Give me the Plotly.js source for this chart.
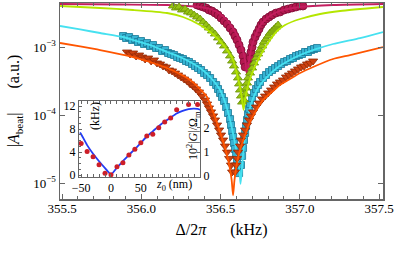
<!DOCTYPE html>
<html>
<head>
<meta charset="utf-8">
<script src="https://cdn.plot.ly/plotly-3.0.1.min.js"></script>
<style>
html,body{margin:0;padding:0;background:#fff;}
#chart{width:402px;height:253px;}
</style>
</head>
<body>
<div id="chart"></div>
<script>
// ---------- main panel: beat amplitude vs detuning (kHz, a.u.) ----------
// crimson circles
const crimsonDelta = [356.352,356.371,356.390,356.409,356.427,356.446,356.465,356.484,356.503,356.522,356.541,356.560,356.579,356.591,356.604,356.617,356.629,356.642,356.648,356.655,
  356.680,356.686,356.692,356.699,356.705,356.718,356.730,356.743,356.755,356.768,356.787,356.806,356.825,356.850,356.875,356.901,356.926,356.951,356.976,357.002,357.020];
const crimsonAmp = [4.146e-3,4.008e-3,3.875e-3,3.746e-3,3.500e-3,3.384e-3,3.162e-3,2.955e-3,2.670e-3,2.412e-3,2.179e-3,1.903e-3,1.662e-3,1.451e-3,1.267e-3,1.070e-3,9.03e-4,7.37e-4,6.02e-4,5.08e-4,
  5.43e-4,6.89e-4,8.44e-4,1.0e-3,1.184e-3,1.403e-3,1.606e-3,1.839e-3,2.106e-3,2.331e-3,2.581e-3,2.762e-3,2.955e-3,3.162e-3,3.271e-3,3.500e-3,3.621e-3,3.746e-3,3.875e-3,4.008e-3,4.008e-3];
const crimsonFitDelta = [355.487,355.866,356.162,356.371,356.434,356.478,356.541,356.604,356.636,356.655,356.667,356.680,356.699,356.724,356.749,356.793,356.844,356.894,357.002,357.210,357.525];
const crimsonFitAmp = [4.29e-3,4.217e-3,4.146e-3,3.875e-3,3.621e-3,3.271e-3,2.495e-3,1.501e-3,9.67e-4,6.44e-4,3.87e-4,6.44e-4,1.070e-3,1.553e-3,2.036e-3,2.670e-3,3.162e-3,3.500e-3,3.875e-3,4.146e-3,4.29e-3];

// yellow-green triangles
const greenDelta = [356.200,356.219,356.238,356.257,356.276,356.295,356.314,356.333,356.352,356.371,356.390,356.409,356.427,356.446,356.465,356.484,356.503,356.522,356.541,356.560,356.573,356.585,356.598,356.610,356.617,356.623,356.629,356.636,
  356.648,356.655,356.661,356.667,356.673,356.686,356.699,356.711,356.724,356.737,356.749,356.762,356.774,356.787,356.800,356.812,356.825,356.838,356.850,356.863];
const greenAmp = [4.008e-3,3.746e-3,3.875e-3,3.500e-3,3.621e-3,3.271e-3,3.162e-3,2.955e-3,2.762e-3,2.581e-3,2.331e-3,2.106e-3,1.903e-3,1.719e-3,1.553e-3,1.356e-3,1.184e-3,1.034e-3,8.73e-4,7.37e-4,6.22e-4,5.25e-4,4.29e-4,3.50e-4,2.86e-4,2.33e-4,1.90e-4,1.55e-4,
  1.66e-4,2.04e-4,2.49e-4,2.95e-4,3.50e-4,4.14e-4,4.91e-4,5.82e-4,6.89e-4,7.89e-4,9.03e-4,1.034e-3,1.184e-3,1.311e-3,1.451e-3,1.606e-3,1.719e-3,1.839e-3,1.968e-3,2.106e-3];
const greenFitDelta = [355.487,355.740,355.948,356.162,356.263,356.371,356.434,356.478,356.528,356.579,356.610,356.629,356.645,356.655,356.673,356.686,356.705,356.737,356.768,356.812,356.856,356.907,357.002,357.128,357.254,357.525];
const greenFitAmp = [4.008e-3,3.746e-3,3.500e-3,3.162e-3,2.762e-3,2.106e-3,1.662e-3,1.356e-3,1.0e-3,6.44e-4,3.50e-4,2.18e-4,1.19e-4,1.72e-4,2.67e-4,3.38e-4,4.44e-4,6.44e-4,8.73e-4,1.267e-3,1.719e-3,2.106e-3,2.581e-3,3.057e-3,3.384e-3,3.875e-3];

// cyan squares
const cyanDelta = [355.885,355.904,355.923,355.942,355.961,355.979,355.998,356.017,356.036,356.055,356.074,356.093,356.112,356.131,356.150,356.169,356.188,356.207,356.226,356.244,356.263,356.282,356.301,356.320,356.339,356.358,356.377,356.396,356.415,356.434,356.453,356.472,356.484,356.497,356.509,356.522,356.535,356.547,356.560,356.566,356.573,356.579,356.585,356.591,356.598,356.604,356.610,356.617,
  356.629,356.636,356.642,356.648,356.655,356.661,356.667,356.673,356.680,356.686,356.699,356.711,356.724,356.737,356.749,356.768,356.787,356.806,356.825,356.844,356.863,356.882,356.901,356.920,356.938,356.957,356.976,356.995,357.014,357.033,357.052,357.071,357.090,357.109];
const cyanAmp = [1.451e-3,1.356e-3,1.403e-3,1.267e-3,1.311e-3,1.184e-3,1.225e-3,1.107e-3,1.145e-3,1.034e-3,1.070e-3,9.67e-4,9.67e-4,8.73e-4,9.03e-4,8.16e-4,7.89e-4,7.62e-4,7.12e-4,6.89e-4,6.66e-4,6.22e-4,6.02e-4,5.62e-4,5.25e-4,4.91e-4,4.59e-4,4.14e-4,3.87e-4,3.50e-4,3.06e-4,2.76e-4,2.41e-4,2.11e-4,1.84e-4,1.61e-4,1.31e-4,1.07e-4,8.7e-5,7.13e-5,5.8e-5,4.76e-5,3.87e-5,3.16e-5,2.58e-5,2.1e-5,1.72e-5,1.4e-5,
  1.84e-5,2.5e-5,3.27e-5,4.29e-5,5.44e-5,6.9e-5,8.45e-5,1.03e-4,1.23e-4,1.45e-4,1.78e-4,2.11e-4,2.41e-4,2.76e-4,3.06e-4,3.50e-4,3.87e-4,4.29e-4,4.59e-4,4.91e-4,5.25e-4,5.62e-4,6.02e-4,6.22e-4,6.66e-4,6.89e-4,7.37e-4,7.62e-4,7.89e-4,8.44e-4,8.44e-4,9.03e-4,9.35e-4,9.67e-4];
const cyanFitDelta = [355.487,355.614,355.740,355.885,355.948,356.055,356.162,356.244,356.308,356.371,356.434,356.497,356.528,356.560,356.591,356.610,356.620,356.626,356.633,356.648,356.667,356.686,356.711,356.749,356.793,356.856,356.938,357.002,357.096,357.210,357.380,357.525];
const cyanFitAmp = [2.036e-3,1.81e-3,1.606e-3,1.403e-3,1.267e-3,1.070e-3,8.44e-4,7.12e-4,6.02e-4,4.91e-4,3.62e-4,2.33e-4,1.55e-4,8.45e-5,3.87e-5,2.18e-5,1.45e-5,9.7e-6,1.45e-5,3.62e-5,7.38e-5,1.27e-4,1.90e-4,2.76e-4,3.62e-4,4.91e-4,6.44e-4,7.62e-4,9.2e-4,1.107e-3,1.356e-3,1.662e-3];

// orange triangles (down)
const orangeDelta = [355.910,355.929,355.948,355.967,355.986,356.005,356.024,356.043,356.062,356.080,356.099,356.118,356.137,356.156,356.175,356.194,356.213,356.232,356.251,356.270,356.289,356.308,356.326,356.345,356.364,356.383,356.402,356.415,356.427,356.440,356.453,356.465,356.478,356.491,356.503,356.516,356.528,356.541,356.554,356.566,356.573,
  356.591,356.598,356.604,356.610,356.623,356.629,356.642,356.655,356.667,356.680,356.692,356.705,356.724,356.743,356.762,356.781,356.800,356.819,356.838,356.856,356.875,356.894,356.913,356.932,356.951,356.970,356.989,357.008,357.027,357.046,357.065,357.084];
const orangeAmp = [8.44e-4,7.89e-4,8.16e-4,7.37e-4,7.62e-4,7.12e-4,6.66e-4,6.89e-4,6.22e-4,6.44e-4,5.82e-4,5.62e-4,5.25e-4,5.08e-4,4.59e-4,4.44e-4,4.14e-4,3.87e-4,3.62e-4,3.38e-4,3.16e-4,2.86e-4,2.67e-4,2.41e-4,2.18e-4,1.90e-4,1.66e-4,1.45e-4,1.27e-4,1.11e-4,9.7e-5,8.45e-5,7.13e-5,6.02e-5,5.08e-5,4.29e-5,3.5e-5,2.85e-5,2.3e-5,1.84e-5,1.45e-5,
  1.45e-5,1.84e-5,2.3e-5,2.85e-5,3.5e-5,4.29e-5,5.08e-5,6.02e-5,7.13e-5,8.45e-5,9.7e-5,1.11e-4,1.31e-4,1.50e-4,1.72e-4,1.90e-4,2.11e-4,2.33e-4,2.58e-4,2.86e-4,3.06e-4,3.27e-4,3.62e-4,3.87e-4,4.14e-4,4.44e-4,4.75e-4,5.08e-4,5.25e-4,5.62e-4,5.82e-4,6.22e-4];
const orangeFitDelta = [355.487,355.614,355.740,355.948,356.055,356.162,356.244,356.308,356.371,356.415,356.453,356.497,356.528,356.554,356.570,356.579,356.588,356.604,356.623,356.655,356.686,356.730,356.768,356.831,356.875,356.938,357.002,357.084,357.210,357.317,357.525];
const orangeFitAmp = [1.145e-3,1.02e-3,9.03e-4,7.12e-4,6.02e-4,4.91e-4,4.01e-4,3.27e-4,2.41e-4,1.84e-4,1.11e-4,5.6e-5,3.3e-5,1.9e-5,1.11e-5,6.6e-6,1.11e-5,1.98e-5,3.06e-5,5.08e-5,7.9e-5,1.23e-4,1.66e-4,2.25e-4,2.76e-4,3.38e-4,4.14e-4,5.08e-4,6.66e-4,7.62e-4,1.0e-3];

// ---------- inset: frequency (kHz) vs z0 (nm) ----------
const insetZ = [-50,-40,-30,-20,-10,0,10,20,30,40,50,60,70,80,90,100,110,130,145];
const insetKHz = [5.5,4.1,3.2,1.8,0.3,0.05,1.45,2.15,3.5,4.5,5.6,6.8,7.1,8.2,9.2,9.9,11.35,12.25,12.25];
const insetFitZ = [-52,-50,-40,-30,-20,-10,0,10,20,30,40,50,60,70,80,90,100,110,120,130,138,145,150];
const insetFitKHz = [7.4,7.1,5.2,3.7,2.4,1.2,0.1,1.3,2.4,3.5,4.5,5.6,6.7,7.6,8.5,9.3,10.0,10.7,11.15,11.45,11.55,11.5,11.35];

const xTickVals = [355.5,356.0,356.5,357.0,357.5];
const yTickVals = [1e-5,1e-4,1e-3];
const yTickText = ['10<sup>\u22125</sup>','10<sup>\u22124</sup>','10<sup>\u22123</sup>'];
const insetXTicks = [-50,0,50];
const insetXText = ['\u221250','0','50'];
const insetYTicks = [0,4,8,12];
const insetRightTicks = [0,1,2];

const FONT = 'Liberation Serif';
const AX = '#666666';

function markers(x, y, sym, size, fill, edge) {
  return {x:x, y:y, type:'scatter', mode:'markers', hoverinfo:'skip', showlegend:false,
    marker:{symbol:sym, size:size, color:fill, line:{color:edge, width:0.8}}};
}
function fit(x, y, col) {
  return {x:x, y:y, type:'scatter', mode:'lines', hoverinfo:'skip', showlegend:false,
    line:{color:col, width:1.8, shape:'spline', smoothing:0.6}};
}

const traces = [
  markers(cyanDelta, cyanAmp, 'square', 7, 'rgb(55,180,212)', 'rgb(25,120,150)'),
  fit(cyanFitDelta, cyanFitAmp, 'rgb(70,225,240)'),
  markers(crimsonDelta, crimsonAmp, 'circle', 8, 'rgb(180,25,80)', 'rgb(125,10,50)'),
  fit(crimsonFitDelta, crimsonFitAmp, 'rgb(195,30,95)'),
  markers(greenDelta, greenAmp, 'triangle-up', 8, 'rgb(150,195,20)', 'rgb(105,145,5)'),
  fit(greenFitDelta, greenFitAmp, 'rgb(180,230,0)'),
  markers(orangeDelta, orangeAmp, 'triangle-down', 8, 'rgb(205,65,15)', 'rgb(145,40,5)'),
  fit(orangeFitDelta, orangeFitAmp, 'rgb(255,85,0)'),
  {x:insetFitZ, y:insetFitKHz, xaxis:'x2', yaxis:'y2', type:'scatter', mode:'lines', hoverinfo:'skip', showlegend:false,
    line:{color:'rgb(35,60,245)', width:1.8, shape:'spline', smoothing:0.5}},
  {x:insetZ, y:insetKHz, xaxis:'x2', yaxis:'y2', type:'scatter', mode:'markers', hoverinfo:'skip', showlegend:false,
    marker:{symbol:'circle', size:5, color:'rgb(205,30,40)'}},
  {x:[0], y:[1], xaxis:'x2', yaxis:'y3', type:'scatter', mode:'markers', hoverinfo:'skip', showlegend:false,
    marker:{size:1, opacity:0}}
];

const layout = {
  width:402, height:253,
  margin:{l:60, r:19, t:3, b:54},
  paper_bgcolor:'#ffffff', plot_bgcolor:'#ffffff',
  font:{family:FONT, size:13, color:'#000'},
  showlegend:false,
  xaxis:{
    range:[355.487,357.525], tickmode:'array', tickvals:xTickVals, ticktext:xTickVals.map(v=>v.toFixed(1)),
    ticks:'inside', ticklen:5, tickwidth:1, tickcolor:AX, ticklabelstandoff:-3,
    minor:{tickmode:'linear', tick0:355.5, dtick:0.1, ticks:'inside', ticklen:3, tickcolor:AX},
    showline:true, linecolor:AX, linewidth:1.5, mirror:'allticks', showgrid:false, zeroline:false,
    tickfont:{family:FONT, size:13},
    title:{text:'\u0394/2<i>\u03c0</i>\u2003\u2002(kHz)', font:{family:FONT, size:16}, standoff:8}
  },
  yaxis:{
    type:'log', range:[-5.235,-2.353], tickmode:'array', tickvals:yTickVals, ticktext:yTickText,
    ticks:'inside', ticklen:5, tickwidth:1, tickcolor:AX,
    showline:true, linecolor:AX, linewidth:1.5, mirror:'allticks', showgrid:false, zeroline:false,
    tickfont:{family:FONT, size:13},
    title:{text:'|<i>A</i><sub>beat</sub>|\u2003\u2002(a.u.)', font:{family:FONT, size:16}, standoff:9}
  },
  xaxis2:{
    domain:[0.0588,0.4334], anchor:'y2', range:[-53.6,149.1],
    tickmode:'array', tickvals:insetXTicks, ticktext:insetXText,
    ticks:'inside', ticklen:3, tickcolor:AX,
    minor:{tickmode:'linear', tick0:0, dtick:10, ticks:'inside', ticklen:2, tickcolor:AX},
    showline:true, linecolor:AX, linewidth:1, mirror:'allticks', showgrid:false, zeroline:false,
    tickfont:{family:FONT, size:12}
  },
  yaxis2:{
    domain:[0.112,0.5], anchor:'x2', range:[-0.35,12.87],
    tickmode:'array', tickvals:insetYTicks,
    ticks:'inside', ticklen:3, tickcolor:AX,
    minor:{tickmode:'linear', tick0:0, dtick:1, ticks:'inside', ticklen:2, tickcolor:AX},
    showline:true, linecolor:AX, linewidth:1, showgrid:false, zeroline:false,
    tickfont:{family:FONT, size:12}
  },
  yaxis3:{
    overlaying:'y2', side:'right', anchor:'x2', range:[-0.04,3.12],
    tickmode:'array', tickvals:insetRightTicks,
    ticks:'inside', ticklen:3, tickcolor:AX,
    showline:true, linecolor:AX, linewidth:1, showgrid:false, zeroline:false,
    tickfont:{family:FONT, size:12}
  },
  annotations:[
    {text:'(kHz)', xref:'paper', yref:'paper', x:0.1084, y:0.4235, textangle:-90, showarrow:false,
      xanchor:'center', yanchor:'middle', font:{family:FONT, size:12}},
    {text:'10<sup>2</sup>|<i>G</i>|/\u03a9<sub>m</sub>', xref:'paper', yref:'paper', x:0.4118, y:0.3214, textangle:-90, showarrow:false,
      xanchor:'center', yanchor:'middle', font:{family:FONT, size:12}},
    {text:'<i>z</i><sub>0</sub> (nm)', xref:'paper', yref:'paper', x:0.353, y:0.0714, showarrow:false,
      xanchor:'center', yanchor:'middle', font:{family:FONT, size:12}}
  ]
};

Plotly.newPlot('chart', traces, layout, {staticPlot:true, displayModeBar:false});
</script>
</body>
</html>
